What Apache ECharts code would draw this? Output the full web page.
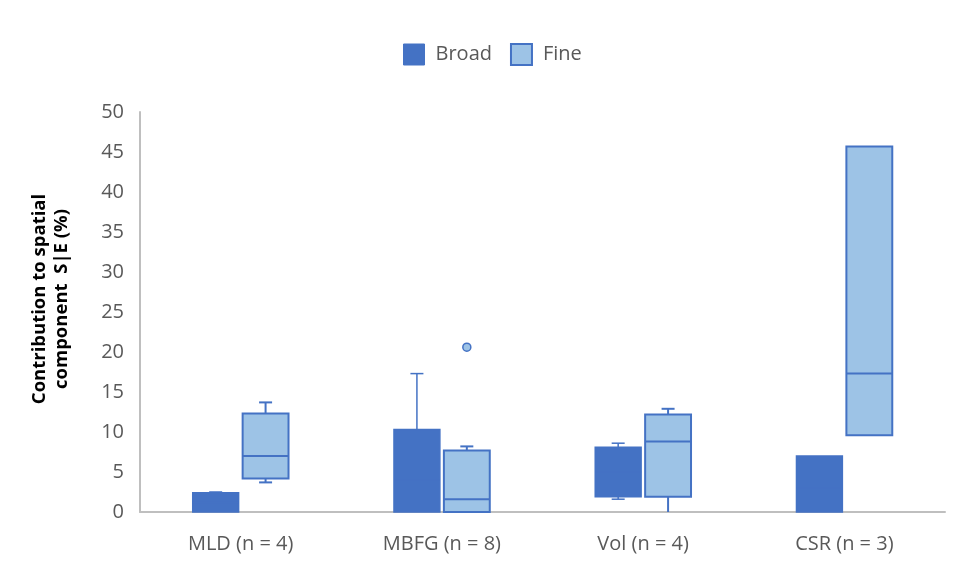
<!DOCTYPE html>
<html><head><meta charset="utf-8">
<script src="https://cdn.jsdelivr.net/npm/echarts@6/dist/echarts.min.js"></script>
<style>html,body{margin:0;padding:0;background:#fff}#c{width:956px;height:572px}</style>
</head><body><div id="c"></div>
<script>
var categories = ['MLD (n = 4)', 'MBFG (n = 8)', 'Vol (n = 4)', 'CSR (n = 3)'];
// [min, Q1, median, Q3, max]
var broadStats = [
  [0, 0, 1.2, 2.4, 2.5],
  [0, 0, 4.0, 10.3, 17.3],
  [1.6, 1.9, 5.0, 8.1, 8.6],
  [0, 0, 3.0, 7.0, 7.0]
];
var fineStats = [
  [3.7, 4.2, 7.0, 12.3, 13.7],
  [0, 0, 1.6, 7.7, 8.2],
  [0, 1.9, 8.8, 12.2, 12.9],
  [9.6, 9.6, 17.3, 45.7, 45.7]
];
// [category index, value]
var fineOutliers = [[1, 20.6]];
var yTicks = [0, 5, 10, 15, 20, 25, 30, 35, 40, 45, 50];

var DARK = '#4472C4', LIGHT = '#9DC3E6';
var FONT = 'Open Sans';

function boxRender(offsetFrac, fill, stroke, lw) {
  return function (params, api) {
    var ci = api.value(0);
    var band = api.size([1, 0])[0];
    var bw = band * 0.228;
    var c = api.coord([ci, 0]);
    var cx = c[0] + band * offsetFrac;
    var mn = api.value(1), q1 = api.value(2), md = api.value(3), q3 = api.value(4), mx = api.value(5);
    var yMin = api.coord([ci, mn])[1], yQ1 = api.coord([ci, q1])[1], yMd = api.coord([ci, md])[1],
        yQ3 = api.coord([ci, q3])[1], yMax = api.coord([ci, mx])[1];
    var capW = 13;
    var ls = { stroke: stroke, lineWidth: lw };
    var ch = [];
    if (mx > q3) {
      ch.push({ type: 'line', shape: { x1: cx, y1: yQ3, x2: cx, y2: yMax }, style: ls });
      ch.push({ type: 'line', shape: { x1: cx - capW / 2, y1: yMax, x2: cx + capW / 2, y2: yMax }, style: ls });
    }
    if (mn < q1) {
      ch.push({ type: 'line', shape: { x1: cx, y1: yQ1, x2: cx, y2: yMin }, style: ls });
      if (mn > 0) ch.push({ type: 'line', shape: { x1: cx - capW / 2, y1: yMin, x2: cx + capW / 2, y2: yMin }, style: ls });
    }
    ch.push({ type: 'rect', shape: { x: cx - bw / 2, y: yQ3, width: bw, height: yQ1 - yQ3 },
      style: { fill: fill, stroke: stroke, lineWidth: lw } });
    ch.push({ type: 'line', shape: { x1: cx - bw / 2, y1: yMd, x2: cx + bw / 2, y2: yMd }, style: ls });
    return { type: 'group', children: ch };
  };
}

function toRows(stats) {
  return stats.map(function (s, i) { return [i].concat(s); });
}

var chart = echarts.init(document.getElementById('c'));
chart.setOption({
  animation: false,
  backgroundColor: '#fff',
  textStyle: { fontFamily: FONT },
  legend: {
    top: 38, left: 398, itemWidth: 21, itemHeight: 21, itemGap: 18,
    textStyle: { fontSize: 20, color: '#595959', fontFamily: FONT, padding: [0, 0, 0, 6] },
    data: [
      { name: 'Broad', icon: 'rect', itemStyle: { color: DARK, borderColor: DARK, borderWidth: 1 } },
      { name: 'Fine', icon: 'rect', itemStyle: { color: LIGHT, borderColor: DARK, borderWidth: 2 } }
    ]
  },
  grid: { left: 140, right: 11, top: 112, bottom: 60 },
  xAxis: {
    type: 'category', data: categories,
    axisLine: { lineStyle: { color: '#BFBFBF', width: 2 } },
    axisTick: { show: false },
    axisLabel: { fontSize: 20, color: '#595959', margin: 22, fontFamily: FONT },
    splitLine: { show: false }
  },
  yAxis: {
    type: 'value', min: yTicks[0], max: yTicks[yTicks.length - 1], interval: 5,
    axisLine: { show: true, lineStyle: { color: '#BFBFBF', width: 2 } },
    axisTick: { show: false },
    splitLine: { show: false },
    axisLabel: { fontSize: 20, color: '#595959', margin: 16, fontFamily: FONT },
    name: 'Contribution to spatial\ncomponent  S|E (%)',
    nameLocation: 'middle', nameRotate: 90, nameGap: 67,
    nameTextStyle: { fontSize: 18.5, fontWeight: 'bold', color: '#000', lineHeight: 22, fontFamily: FONT,
      padding: [0, 0, 0, 26] }
  },
  series: [
    {
      name: 'Broad', type: 'custom', renderItem: boxRender(-0.124, DARK, DARK, 1.5),
      itemStyle: { color: DARK },
      encode: { x: 0, y: [1, 2, 3, 4, 5] }, data: toRows(broadStats)
    },
    {
      name: 'Fine', type: 'custom', renderItem: boxRender(0.124, LIGHT, DARK, 2),
      itemStyle: { color: LIGHT },
      encode: { x: 0, y: [1, 2, 3, 4, 5] }, data: toRows(fineStats)
    },
    {
      name: 'Fine outliers', type: 'custom',
      renderItem: function (params, api) {
        var ci = api.value(0);
        var band = api.size([1, 0])[0];
        var p = api.coord([ci, api.value(1)]);
        return { type: 'circle', shape: { cx: p[0] + band * 0.124, cy: p[1], r: 4 },
          style: { fill: LIGHT, stroke: DARK, lineWidth: 1.5 } };
      },
      encode: { x: 0, y: 1 }, data: fineOutliers
    }
  ]
});
</script></body></html>
